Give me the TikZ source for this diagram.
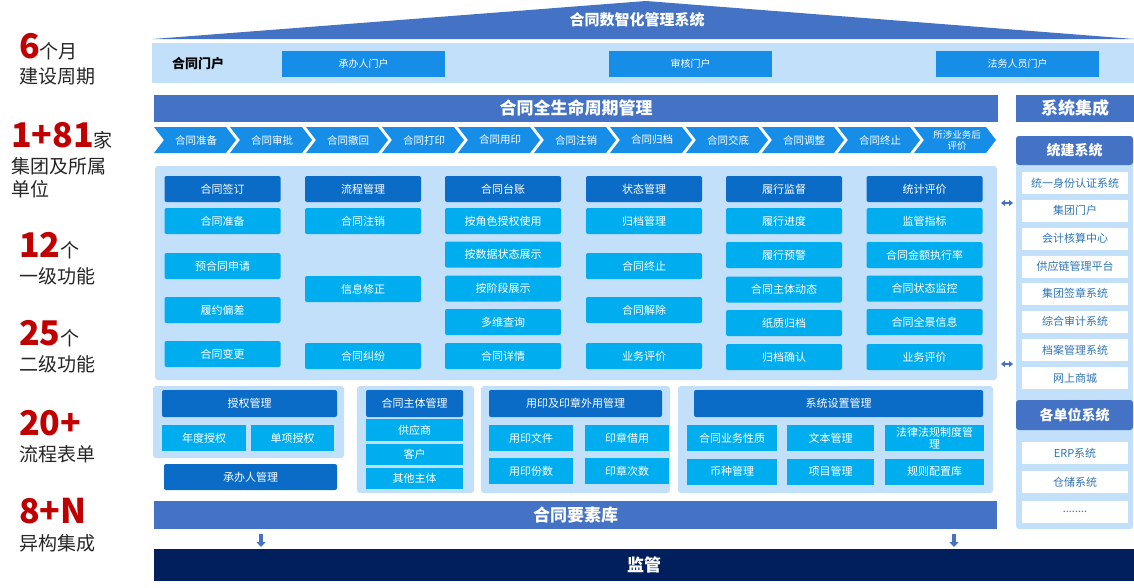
\documentclass[tikz,border=0pt]{standalone}
\usepackage{fontspec}
\setmainfont{Noto Sans CJK SC}
\usetikzlibrary{arrows.meta}
\definecolor{hdrblue}{HTML}{4472C4}
\definecolor{lightbg}{HTML}{C2E0FA}
\definecolor{brightblue}{HTML}{168EE8}
\definecolor{darkbox}{HTML}{0B6CC8}
\definecolor{cyanbox}{HTML}{00AEEF}
\definecolor{navy}{HTML}{001F5C}
\definecolor{txtblue}{HTML}{2E75B6}
\definecolor{statred}{HTML}{C00000}
\definecolor{stattext}{HTML}{262626}
\newcommand{\fs}[1]{\fontsize{#1}{#1}\selectfont}
\newcommand{\bignum}[1]{\textcolor{statred}{\bfseries\fs{34}#1}}
\newcommand{\smallt}[1]{\textcolor{stattext}{\fs{19}#1}}
\begin{document}
\begin{tikzpicture}[x=1pt,y=-1pt,
  every node/.style={inner sep=0pt, outer sep=0pt},
  hdr/.style={fill=hdrblue, text=white, font=\bfseries\fs{17}},
  portal/.style={fill=brightblue, text=white, font=\fs{10}, minimum width=163, minimum height=26},
  chev/.style={fill=brightblue},
  chevtxt/.style={text=white, font=\fs{10.5}, align=center},
  dk/.style={fill=darkbox, text=white, rounded corners=2pt, font=\fs{11}, align=center},
  lt/.style={fill=cyanbox, text=white, rounded corners=2pt, font=\fs{11}, align=center},
  cbox/.style={minimum width=116, minimum height=26},
  panel/.style={fill=lightbg, rounded corners=3pt},
  wbox/.style={fill=white, text=txtblue, font=\fs{11}, minimum width=106, minimum height=22},
  stat/.style={anchor=base west, text=stattext, font=\fs{19}},
  darrow/.style={draw=hdrblue, line width=3.5pt, -{Triangle[width=9pt,length=5pt]}},
  larrow/.style={draw=hdrblue, line width=2pt, {Triangle[width=6pt,length=4pt]}-{Triangle[width=6pt,length=4pt]}}
]
\useasboundingbox (0,0) rectangle (1134,587);
\fill[white] (0,0) rectangle (1134,587);

% ---------- left statistics ----------
\node[stat] (s1) at (19,58) {\bignum{6}\smallt{个月}};
\node[stat] (s1b) at (19,83) {建设周期};
\node[stat] (s2) at (11,147) {\bignum{1+81}\smallt{家}};
\node[stat] (s2b) at (11,173) {集团及所属};
\node[stat] (s2c) at (11,196) {单位};
\node[stat] (s3) at (19,257) {\bignum{12}\smallt{个}};
\node[stat] (s3b) at (19,283) {一级功能};
\node[stat] (s4) at (19,345) {\bignum{25}\smallt{个}};
\node[stat] (s4b) at (19,371) {二级功能};
\node[stat] (s5) at (19,435) {\bignum{20+}};
\node[stat] (s5b) at (19,461) {流程表单};
\node[stat] (s6) at (19,523) {\bignum{8+N}};
\node[stat] (s6b) at (19,550) {异构集成};

% ---------- top roof ----------
\fill[hdrblue] (153,39) -- (646,1) -- (1134,39) -- cycle;
\node[text=white, font=\bfseries\fs{15}] (title) at (637,20) {合同数智化管理系统};

% ---------- portal band ----------
\fill[lightbg] (152,43) rectangle (1134,83);
\node[font=\bfseries\fs{13}, text=black] (portal) at (198,64) {合同门户};
\node[portal] (p1) at (363.5,64) {承办人门户};
\node[portal] (p2) at (690.5,64) {审核门户};
\node[portal] (p3) at (1017.5,64) {法务人员门户};

% ---------- lifecycle header ----------
\node[hdr, minimum width=844, minimum height=27] (life) at (576,108) {合同全生命周期管理};
\node[hdr, minimum width=118, minimum height=27] (sysint) at (1075,108) {系统集成};

% ---------- chevrons ----------
\foreach \t [count=\i from 0] in {合同准备,合同审批,合同撤回,合同打印,合同用印,合同注销,合同归档,合同交底,合同调整,合同终止} {
  \fill[chev] ({154+76*\i},127) -- ++(72,0) -- ++(10,13) -- ++(-10,13) -- ++(-72,0) -- ++(10,-13) -- cycle;
  \node[chevtxt] (ch\i) at ({154+76*\i+42},140) {\t};
}
\fill[chev] ({154+760},127) -- ++(72,0) -- ++(10,13) -- ++(-10,13) -- ++(-72,0) -- ++(10,-13) -- cycle;
\node[chevtxt, font=\fontsize{9.5}{11}\selectfont] (ch10) at (957,140) {所涉业务后\\评价};

% ---------- main function panel ----------
\fill[panel] (155,166) rectangle (997,380);
% column 1
\node[dk,cbox] (c1h) at (222.5,189) {合同签订};
\node[lt,cbox] (c1a) at (222.5,221) {合同准备};
\node[lt,cbox] (c1b) at (222.5,266) {预合同申请};
\node[lt,cbox] (c1c) at (222.5,310) {履约偏差};
\node[lt,cbox] (c1d) at (222.5,354) {合同变更};
% column 2
\node[dk,cbox] (c2h) at (363,189) {流程管理};
\node[lt,cbox] (c2a) at (363,221) {合同注销};
\node[lt,cbox] (c2b) at (363,289) {信息修正};
\node[lt,cbox] (c2c) at (363,356) {合同纠纷};
% column 3
\node[dk,cbox] (c3h) at (503,189) {合同台账};
\node[lt,cbox] (c3a) at (503,221) {按角色授权使用};
\node[lt,cbox] (c3b) at (503,254.5) {按数据状态展示};
\node[lt,cbox] (c3c) at (503,288.5) {按阶段展示};
\node[lt,cbox] (c3d) at (503,322) {多维查询};
\node[lt,cbox] (c3e) at (503,356) {合同详情};
% column 4
\node[dk,cbox] (c4h) at (644,189) {状态管理};
\node[lt,cbox] (c4a) at (644,221) {归档管理};
\node[lt,cbox] (c4b) at (644,266) {合同终止};
\node[lt,cbox] (c4c) at (644,310) {合同解除};
\node[lt,cbox] (c4d) at (644,356) {业务评价};
% column 5
\node[dk,cbox] (c5h) at (784,189) {履行监督};
\node[lt,cbox] (c5a) at (784,221) {履行进度};
\node[lt,cbox] (c5b) at (784,255) {履行预警};
\node[lt,cbox] (c5c) at (784,289.5) {合同主体动态};
\node[lt,cbox] (c5d) at (784,323) {纸质归档};
\node[lt,cbox] (c5e) at (784,357) {归档确认};
% column 6
\node[dk,cbox] (c6h) at (924.5,189) {统计评价};
\node[lt,cbox] (c6a) at (924.5,221) {监管指标};
\node[lt,cbox] (c6b) at (924.5,255) {合同金额执行率};
\node[lt,cbox] (c6c) at (924.5,288.5) {合同状态监控};
\node[lt,cbox] (c6d) at (924.5,322) {合同全景信息};
\node[lt,cbox] (c6e) at (924.5,357) {业务评价};

% ---------- lower modules ----------
% authorisation
\fill[panel] (153,386) rectangle (344,458);
\node[dk, minimum width=175, minimum height=27] (auth) at (249.5,403.5) {授权管理};
\node[lt, rounded corners=0pt, minimum width=84, minimum height=26] (auth1) at (204,438) {年度授权};
\node[lt, rounded corners=0pt, minimum width=83, minimum height=26] (auth2) at (292.5,438) {单项授权};
\node[dk, minimum width=173, minimum height=26] (handler) at (250.5,477) {承办人管理};
% parties
\fill[panel] (357,386) rectangle (474,493);
\node[dk, minimum width=97, minimum height=27] (party) at (414.5,403.5) {合同主体管理};
\node[lt, rounded corners=0pt, minimum width=97, minimum height=22] (party1) at (414.5,430) {供应商};
\node[lt, rounded corners=0pt, minimum width=97, minimum height=21] (party2) at (414.5,454.5) {客户};
\node[lt, rounded corners=0pt, minimum width=97, minimum height=21] (party3) at (414.5,478.5) {其他主体};
% seals
\fill[panel] (481,386) rectangle (670,493);
\node[dk, minimum width=173, minimum height=27] (seal) at (575.5,403.5) {用印及印章外用管理};
\node[lt, rounded corners=0pt, minimum width=84, minimum height=26] (seal1) at (531,438) {用印文件};
\node[lt, rounded corners=0pt, minimum width=84, minimum height=26] (seal2) at (531,471) {用印份数};
\node[lt, rounded corners=0pt, minimum width=84, minimum height=26] (seal3) at (627,438) {印章借用};
\node[lt, rounded corners=0pt, minimum width=84, minimum height=26] (seal4) at (627,471) {印章次数};
% settings
\fill[panel] (678,386) rectangle (993,493);
\node[dk, minimum width=289, minimum height=27] (sett) at (838.5,403.5) {系统设置管理};
\node[lt, rounded corners=0pt, minimum width=90, minimum height=26] (sett1) at (732,438) {合同业务性质};
\node[lt, rounded corners=0pt, minimum width=87, minimum height=26] (sett2) at (830.5,438) {文本管理};
\node[lt, rounded corners=0pt, minimum width=99, minimum height=26, font=\fontsize{11}{11.5}\selectfont] (sett3) at (934.5,438) {法律法规制度管\\理};
\node[lt, rounded corners=0pt, minimum width=90, minimum height=26] (sett4) at (732,471.5) {币种管理};
\node[lt, rounded corners=0pt, minimum width=87, minimum height=26] (sett5) at (830.5,471.5) {项目管理};
\node[lt, rounded corners=0pt, minimum width=99, minimum height=26] (sett6) at (934.5,471.5) {规则配置库};

% ---------- element library & supervision ----------
\node[hdr, minimum width=843, minimum height=28] (elem) at (575.5,515) {合同要素库};
\node[fill=navy, text=white, font=\bfseries\fs{17}, minimum width=980, minimum height=32] (sup) at (644,565) {监管};
\coordinate (da1) at (261,534);
\coordinate (da1e) at (261,547);
\coordinate (da2) at (954,534);
\coordinate (da2e) at (954,547);
\draw[darrow] (da1) -- (da1e);
\draw[darrow] (da2) -- (da2e);

% ---------- right integration column ----------
\fill[panel] (1016,136) rectangle (1133,529);
\node[fill=hdrblue, text=white, rounded corners=3pt, font=\bfseries\fs{14}, minimum width=117, minimum height=29] (tj) at (1074.5,150.5) {统建系统};
\node[wbox] (r1) at (1075,183) {统一身份认证系统};
\node[wbox] (r2) at (1075,210.5) {集团门户};
\node[wbox] (r3) at (1075,238.5) {会计核算中心};
\node[wbox] (r4) at (1075,266.5) {供应链管理平台};
\node[wbox] (r5) at (1075,293.5) {集团签章系统};
\node[wbox] (r6) at (1075,321.5) {综合审计系统};
\node[wbox] (r7) at (1075,350) {档案管理系统};
\node[wbox] (r8) at (1075,378) {网上商城};
\node[fill=hdrblue, text=white, rounded corners=3pt, font=\bfseries\fs{14}, minimum width=117, minimum height=30] (gdw) at (1074.5,415) {各单位系统};
\node[wbox] (u1) at (1075,453) {ERP系统};
\node[wbox] (u2) at (1075,482) {仓储系统};
\node[wbox] (u3) at (1075,511.5) {........};

% double arrows between panels
\coordinate (la1) at (1001,203);
\coordinate (la1e) at (1013,203);
\coordinate (la2) at (1001,364);
\coordinate (la2e) at (1013,364);
\draw[larrow] (la1) -- (la1e);
\draw[larrow] (la2) -- (la2e);
\end{tikzpicture}
\end{document}
